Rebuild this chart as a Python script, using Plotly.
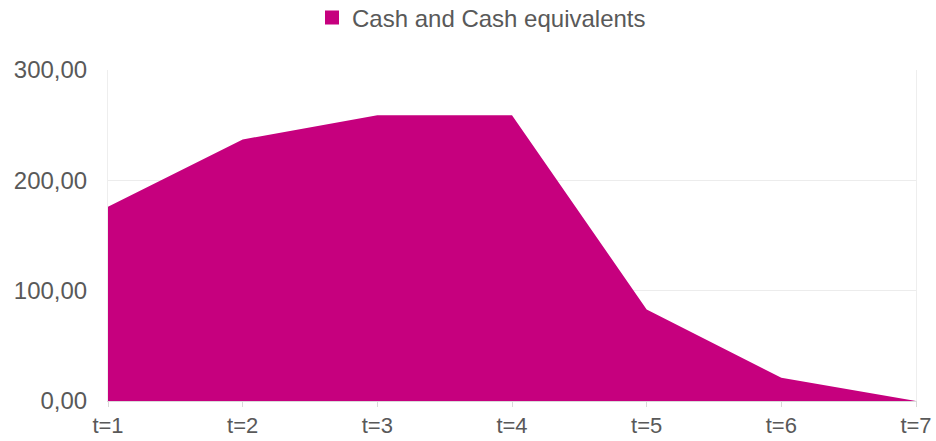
import plotly.graph_objects as go

categories = ["t=1", "t=2", "t=3", "t=4", "t=5", "t=6", "t=7"]
cash_values = [176, 237, 259, 259, 83, 21, 0]
series_name = "Cash and Cash equivalents"
y_ticks = [0, 100, 200, 300]

COLOR = "rgb(198,0,126)"
TEXT = "#595959"

fig = go.Figure()
fig.add_trace(go.Scatter(
    x=categories, y=cash_values, mode="lines", fill="tozeroy",
    fillcolor=COLOR, line=dict(width=0, color=COLOR), showlegend=False,
    hoverinfo="x+y",
))
fig.add_trace(go.Scatter(
    x=[None], y=[None], mode="markers", name=series_name,
    marker=dict(symbol="square", size=14, color=COLOR), showlegend=True,
))

fig.update_layout(
    width=936, height=441,
    margin=dict(l=108, r=20, t=70, b=40),
    plot_bgcolor="white", paper_bgcolor="white",
    separators=",.",
    font=dict(family="Liberation Sans, Arial, sans-serif", size=24, color=TEXT),
    legend=dict(
        orientation="h", xref="container", yref="container",
        x=312 / 936, xanchor="left", y=1 - 18 / 441, yanchor="middle",
        font=dict(size=24, color=TEXT), bgcolor="rgba(0,0,0,0)",
    ),
    xaxis=dict(
        type="category", range=[0, 6], showgrid=False, automargin=False,
        showline=True, linecolor="#d9d9d9", linewidth=1,
        ticks="outside", ticklen=5, tickcolor="#d9d9d9",
        ticklabelstandoff=0, tickfont=dict(size=22, color=TEXT),
    ),
    yaxis=dict(
        range=[0, 300], tickvals=y_ticks, tickformat=".2f", automargin=False,
        showgrid=True, gridcolor="#ececec", gridwidth=1,
        zeroline=False, showline=True, mirror=True, linecolor="#eeeeee",
        ticks="", ticklabelstandoff=15, tickfont=dict(size=24, color=TEXT),
    ),
)

fig.write_html("out.html")
